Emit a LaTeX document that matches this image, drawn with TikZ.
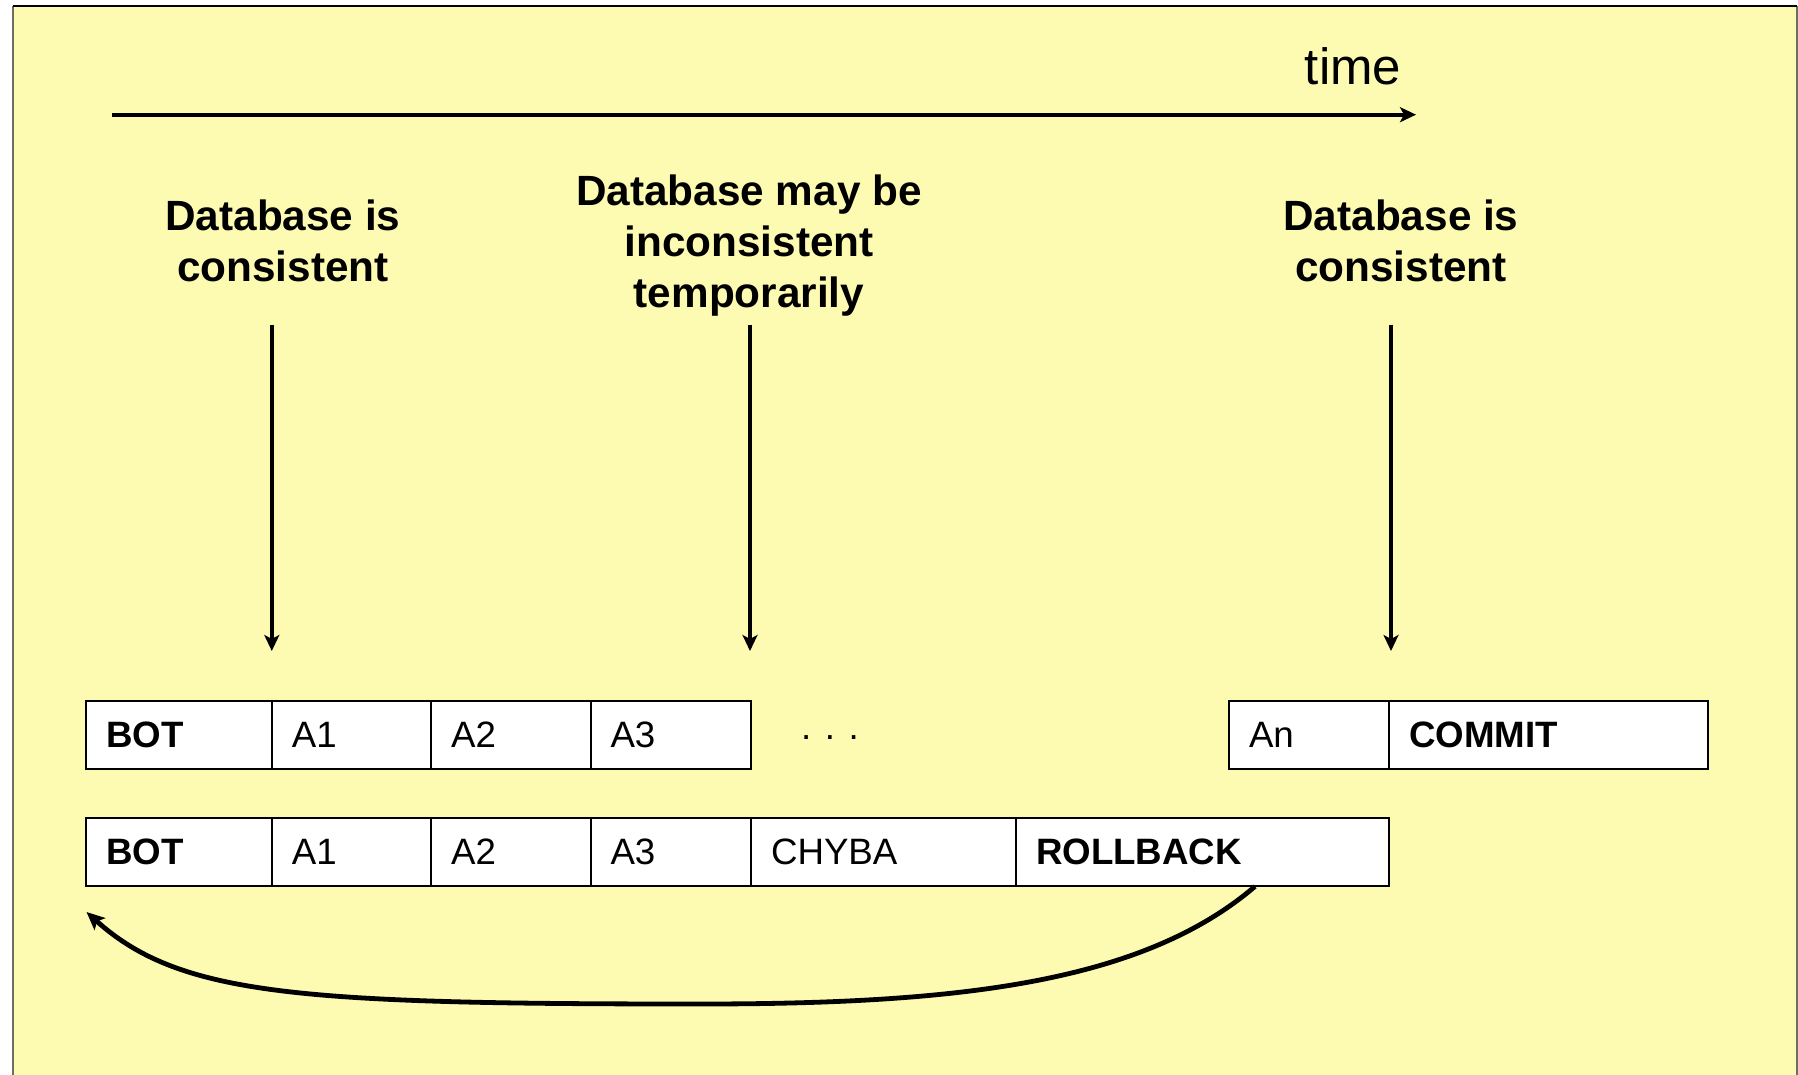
\documentclass[tikz,border=0pt]{standalone}
\usepackage{fontspec}
\setmainfont{Liberation Sans}
\usetikzlibrary{arrows.meta}
\definecolor{slide}{RGB}{253,250,177}
\definecolor{framegray}{RGB}{110,110,100}
\begin{document}
\begin{tikzpicture}[x=0.5pt,y=-0.5pt,
  tip/.style={-{Stealth[length=8pt,width=7.5pt,inset=2pt]}},
  timeline/.style={tip,line width=2pt},
  marker/.style={tip,line width=2.2pt},
  undo/.style={-{Stealth[length=9pt,width=8pt,inset=2pt]},line width=2.4pt},
  note/.style={align=center,inner sep=0pt,
    font=\fontsize{21.15}{25.5}\selectfont\bfseries},
  cell/.style={draw,line width=1pt,fill=white,anchor=west,outer sep=0pt,
    minimum height=34.4pt,inner xsep=10pt,inner ysep=0pt,align=left,
    font=\fontsize{18.35}{22}\selectfont},
  kw/.style={cell,font=\fontsize{18.35}{22}\selectfont\bfseries}]

% page and slide background
\useasboundingbox (0,0) rectangle (1798,1075);
\fill[white] (0,0) rectangle (1798,1075);
\fill[slide] (13,6) rectangle (1797,1075);
\draw[framegray,line width=0.8pt] (13,1075) -- (13,6);
\draw[framegray,line width=0.8pt] (1797,6) -- (1797,1075);
\draw[black,line width=1.1pt] (13,6) -- (1797,6);

% time axis
\coordinate (t0) at (112,114.7);
\coordinate (t1) at (1416,114.7);
\draw[timeline] (t0) -- (t1);
\node[inner sep=0pt,font=\fontsize{25.5}{30}\selectfont] (timelbl) at (1353,66.5) {time};

% state annotations
\node[note] (n1) at (283,241.3) {Database is\\consistent};
\node[note] (n2) at (749,246) {Database may be\\inconsistent\\temporarily};
\node[note] (n3) at (1401,241.3) {Database is\\consistent};

\coordinate (m1a) at (271.8,324.5);  \coordinate (m1b) at (271.8,651);
\coordinate (m2a) at (750,324.5);    \coordinate (m2b) at (750,651);
\coordinate (m3a) at (1391,324.5);   \coordinate (m3b) at (1391,651);
\draw[marker] (m1a) -- (m1b);
\draw[marker] (m2a) -- (m2b);
\draw[marker] (m3a) -- (m3b);

% committed transaction
\node[kw,text width=72.9pt] (bot1) at (86,735) {BOT};
\node[cell,text width=59.7pt] (a11) at (bot1.east) {A1};
\node[cell,text width=59.65pt] (a21) at (a11.east) {A2};
\node[cell,text width=60.25pt] (a31) at (a21.east) {A3};
\node[inner sep=0pt,font=\fontsize{18.35}{22}\selectfont] (dots) at (830,738) {. . .};
\node[cell,text width=60pt] (an) at (1229,735) {An};
\node[kw,text width=139.25pt] (commit) at (an.east) {COMMIT};

% aborted transaction
\node[kw,text width=72.9pt] (bot2) at (86,852) {BOT};
\node[cell,text width=59.7pt] (a12) at (bot2.east) {A1};
\node[cell,text width=59.65pt] (a22) at (a12.east) {A2};
\node[cell,text width=60.25pt] (a32) at (a22.east) {A3};
\node[cell,text width=112.5pt] (err) at (a32.east) {CHYBA};
\node[kw,text width=166.5pt] (rb) at (err.east) {ROLLBACK};

% rollback returns to the start
\coordinate (rbfoot) at (rb.south -| 1255,0);
\coordinate (back) at (86.5,912);
\draw[undo] (rbfoot) .. controls (1140,985) and (950,1004) .. (700,1004)
            .. controls (300,1004) and (180,996) .. (back);
\end{tikzpicture}
\end{document}
